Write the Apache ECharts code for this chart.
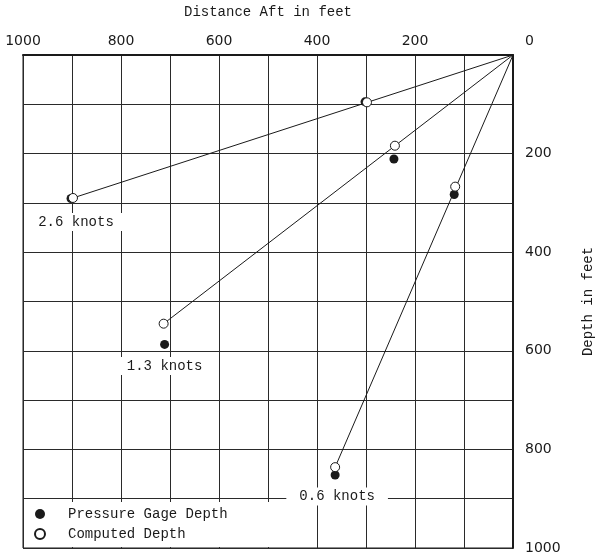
<!DOCTYPE html>
<html>
<head>
<meta charset="utf-8">
<script src="https://cdn.jsdelivr.net/npm/echarts@6/dist/echarts.min.js"></script>
<style>
  html, body { margin: 0; padding: 0; background: #fff; }
  #chart { width: 603px; height: 555px; }
</style>
</head>
<body>
<div id="chart"></div>
<script>
// Towing runs: each run has a near and a far station (distance aft, depth), in feet.
const speeds = ['2.6 knots', '1.3 knots', '0.6 knots'];
const computedAft = [[298, 898], [241, 713], [118, 363]];
const computedDepth = [[96, 290], [184, 545], [267, 836]];
const gageAft = [[302, 902], [243, 711], [120, 363]];
const gageDepth = [[95, 291], [211, 587], [283, 852]];
const majorTicks = [200, 400, 600, 800, 1000];

const INK = '#1a1a1a';
const MONO = '"Liberation Mono", "DejaVu Sans Mono", monospace';
const NUM = '"DejaVu Sans", sans-serif';

// Label offsets per run, below the far gage reading.
const labelDistance = [10, 8, 8];
const labelOffset = [5, 0, 2];

const gagePoints = [];
const computedPoints = [];
speeds.forEach((name, i) => {
  computedPoints.push([computedAft[i][0], computedDepth[i][0]]);
  computedPoints.push([computedAft[i][1], computedDepth[i][1]]);
  gagePoints.push([gageAft[i][0], gageDepth[i][0]]);
  gagePoints.push({
    value: [gageAft[i][1], gageDepth[i][1]],
    label: {
      show: true,
      position: 'bottom',
      distance: labelDistance[i],
      offset: [labelOffset[i], 0],
      formatter: name,
      fontFamily: MONO,
      fontSize: 14,
      lineHeight: 14,
      color: INK,
      backgroundColor: '#fff',
      padding: [2, 13, 2, 13]
    }
  });
});

// Straight runs from the tow point (0, 0) out to each far computed depth.
const runLines = speeds.map((name, i) => ({
  type: 'line',
  name: 'run ' + name,
  data: [[0, 0], [computedAft[i][1], computedDepth[i][1]]],
  symbol: 'none',
  silent: true,
  z: 1,
  lineStyle: { color: INK, width: 1 }
}));

const chart = echarts.init(document.getElementById('chart'), null, { renderer: 'canvas' });
chart.setOption({
  animation: false,
  backgroundColor: '#fff',
  grid: {
    left: 23, right: 78, top: 55, bottom: 6,
    show: true, borderColor: INK, borderWidth: 1
  },
  legend: {
    data: ['Pressure Gage Depth', 'Computed Depth'],
    orient: 'vertical',
    left: 25,
    top: 502,
    itemWidth: 10,
    itemHeight: 10,
    itemGap: 6,
    padding: [5, 46, 6, 9],
    backgroundColor: '#fff',
    z: 5,
    textStyle: {
      fontFamily: MONO, fontSize: 14, lineHeight: 14, color: INK,
      padding: [0, 0, 0, 18]
    }
  },
  xAxis: {
    type: 'value',
    position: 'top',
    inverse: true,
    min: 0, max: 1000, interval: 100,
    name: 'Distance Aft in feet',
    nameLocation: 'middle',
    nameGap: 36,
    nameTextStyle: { fontFamily: MONO, fontSize: 14, color: INK },
    axisLine: { show: true, lineStyle: { color: INK, width: 2 } },
    axisTick: { show: false },
    splitLine: { show: true, lineStyle: { color: '#2a2a2a', width: 1 } },
    axisLabel: {
      margin: 7,
      fontFamily: NUM, fontSize: 14, color: INK,
      formatter: v => (majorTicks.includes(v) ? String(v) : '')
    }
  },
  yAxis: {
    type: 'value',
    position: 'right',
    inverse: true,
    min: 0, max: 1000, interval: 100,
    name: 'Depth in feet',
    nameLocation: 'middle',
    nameRotate: 90,
    nameGap: 68,
    nameTextStyle: { fontFamily: MONO, fontSize: 14, color: INK },
    axisLine: { show: true, lineStyle: { color: INK, width: 2 } },
    axisTick: { show: false },
    splitLine: { show: true, lineStyle: { color: '#2a2a2a', width: 1 } },
    axisLabel: {
      margin: 12,
      fontFamily: NUM, fontSize: 14, color: INK,
      formatter: v => {
        if (v === 0) return '{corner|0}';
        return majorTicks.includes(v) ? String(v) : '';
      },
      rich: {
        corner: { fontFamily: NUM, fontSize: 14, color: INK, padding: [0, 0, 28, 0] }
      }
    }
  },
  series: [
    ...runLines,
    {
      type: 'scatter',
      name: 'Pressure Gage Depth',
      data: gagePoints,
      symbol: 'circle',
      symbolSize: 9,
      z: 3,
      itemStyle: { color: INK, opacity: 1 }
    },
    {
      type: 'scatter',
      name: 'Computed Depth',
      data: computedPoints,
      symbol: 'circle',
      symbolSize: 9,
      z: 4,
      itemStyle: { color: '#fff', borderColor: INK, borderWidth: 1, opacity: 1 }
    }
  ]
});
</script>
</body>
</html>
